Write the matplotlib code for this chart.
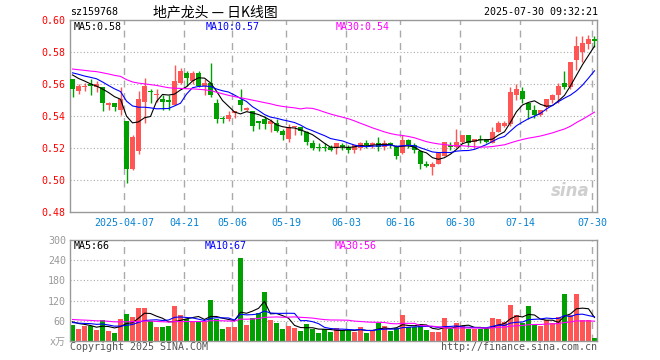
import numpy as np
import pandas as pd
import matplotlib
matplotlib.use('Agg')
import matplotlib.pyplot as plt

# trading days shown
holidays = ['2025-04-04', '2025-05-01', '2025-05-02', '2025-05-05', '2025-06-02']
days = [d for d in pd.bdate_range('2025-03-24', '2025-07-30') if d.strftime('%Y-%m-%d') not in holidays]

opens = [0.563, 0.556, 0.558, 0.560, 0.558, 0.558, 0.547, 0.548, 0.544, 0.537,
         0.507, 0.518, 0.549, 0.556, 0.553, 0.551, 0.550, 0.547, 0.561, 0.567,
         0.562, 0.567, 0.559, 0.561, 0.548, 0.539, 0.538, 0.542, 0.550, 0.544,
         0.543, 0.537, 0.538, 0.535, 0.536, 0.531, 0.526, 0.533, 0.533, 0.530,
         0.523, 0.521, 0.521, 0.521, 0.520, 0.522, 0.521, 0.519, 0.520, 0.523,
         0.522, 0.523, 0.521, 0.523, 0.521, 0.517, 0.525, 0.522, 0.518, 0.510,
         0.508, 0.510, 0.515, 0.522, 0.521, 0.524, 0.528, 0.524, 0.526, 0.526,
         0.523, 0.530, 0.534, 0.535, 0.553, 0.556, 0.548, 0.544, 0.541, 0.546,
         0.550, 0.553, 0.561, 0.558, 0.575, 0.580, 0.585, 0.588]
highs = [0.563, 0.560, 0.561, 0.563, 0.562, 0.558, 0.549, 0.548, 0.558, 0.537,
         0.528, 0.556, 0.564, 0.557, 0.557, 0.553, 0.553, 0.572, 0.570, 0.568,
         0.568, 0.568, 0.563, 0.573, 0.551, 0.540, 0.543, 0.543, 0.557, 0.546,
         0.543, 0.537, 0.540, 0.538, 0.538, 0.532, 0.535, 0.534, 0.533, 0.531,
         0.525, 0.523, 0.523, 0.522, 0.523, 0.523, 0.522, 0.522, 0.524, 0.525,
         0.524, 0.527, 0.525, 0.524, 0.522, 0.528, 0.526, 0.523, 0.519, 0.512,
         0.511, 0.517, 0.524, 0.524, 0.532, 0.528, 0.528, 0.526, 0.528, 0.526,
         0.533, 0.537, 0.537, 0.558, 0.560, 0.558, 0.548, 0.547, 0.544, 0.551,
         0.554, 0.561, 0.568, 0.574, 0.590, 0.590, 0.591, 0.590]
lows = [0.552, 0.554, 0.556, 0.553, 0.555, 0.543, 0.544, 0.543, 0.541, 0.498,
        0.506, 0.516, 0.536, 0.548, 0.549, 0.544, 0.544, 0.547, 0.560, 0.559,
        0.560, 0.558, 0.553, 0.552, 0.536, 0.536, 0.537, 0.539, 0.543, 0.543,
        0.531, 0.532, 0.532, 0.530, 0.530, 0.525, 0.524, 0.528, 0.528, 0.522,
        0.519, 0.518, 0.518, 0.518, 0.516, 0.519, 0.517, 0.517, 0.519, 0.520,
        0.520, 0.518, 0.519, 0.520, 0.513, 0.516, 0.520, 0.517, 0.507, 0.508,
        0.503, 0.510, 0.515, 0.519, 0.520, 0.523, 0.521, 0.520, 0.523, 0.523,
        0.523, 0.530, 0.533, 0.534, 0.550, 0.548, 0.538, 0.539, 0.540, 0.543,
        0.548, 0.548, 0.557, 0.557, 0.569, 0.574, 0.582, 0.583]
closes = [0.557, 0.559, 0.559, 0.559, 0.560, 0.548, 0.548, 0.546, 0.551, 0.507,
          0.527, 0.551, 0.559, 0.555, 0.554, 0.549, 0.549, 0.562, 0.568, 0.564,
          0.567, 0.559, 0.561, 0.553, 0.538, 0.538, 0.541, 0.543, 0.547, 0.545,
          0.534, 0.536, 0.535, 0.537, 0.531, 0.528, 0.533, 0.534, 0.531, 0.524,
          0.520, 0.520, 0.520, 0.519, 0.523, 0.521, 0.519, 0.522, 0.523, 0.522,
          0.523, 0.521, 0.523, 0.522, 0.515, 0.525, 0.522, 0.519, 0.510, 0.509,
          0.510, 0.517, 0.524, 0.521, 0.524, 0.528, 0.523, 0.526, 0.525, 0.524,
          0.530, 0.536, 0.536, 0.555, 0.557, 0.551, 0.544, 0.541, 0.544, 0.551,
          0.553, 0.559, 0.558, 0.574, 0.584, 0.586, 0.588, 0.587]
volumes = [47, 35, 45, 45, 33, 62, 30, 24, 65, 80,
           72, 98, 98, 60, 41, 41, 44, 103, 77, 64,
           60, 60, 59, 121, 64, 35, 41, 41, 248, 47,
           67, 82, 145, 62, 53, 35, 44, 38, 30, 50,
           35, 24, 35, 27, 38, 32, 32, 27, 41, 24,
           32, 53, 44, 30, 38, 77, 41, 41, 47, 32,
           27, 27, 68, 35, 53, 44, 35, 35, 35, 35,
           68, 65, 56, 106, 77, 53, 103, 47, 44, 62,
           53, 71, 139, 77, 139, 62, 62, 9]

# sessions before the window, estimated from where the MA lines start
pre_close = [0.572, 0.571, 0.573, 0.570, 0.569, 0.571, 0.572, 0.570, 0.568, 0.571,
             0.573, 0.572, 0.570, 0.569, 0.571, 0.570, 0.572, 0.571, 0.570, 0.569,
             0.568, 0.570, 0.567, 0.569, 0.568, 0.570, 0.567, 0.568, 0.567]
pre_vol = [70, 66, 72, 68, 65, 74, 69, 66, 70, 67,
           71, 68, 66, 70, 69, 67, 65, 72, 68, 67,
           52, 55, 50, 54, 52, 60, 58, 62, 58]

tick_dates = ['2025-04-07', '2025-04-21', '2025-05-06', '2025-05-19', '2025-06-03',
              '2025-06-16', '2025-06-30', '2025-07-14', '2025-07-30']

RED = '#ff5555'
GREEN = '#00a000'
GRID = '#aaaaaa'
MONO = 'DejaVu Sans Mono'
CJK = ['Noto Sans CJK SC', 'DejaVu Sans']

n = len(closes)
x = np.arange(n)
day_str = [d.strftime('%Y-%m-%d') for d in days]
tick_idx = [day_str.index(d) for d in tick_dates]
tick_lbl = [tick_dates[0]] + [d[5:] for d in tick_dates[1:]]
grid_x = np.array(tick_idx) - 0.35

colors = [RED if c > o else GREEN for o, c in zip(opens, closes)]

cs = pd.Series(pre_close + closes)
vs = pd.Series(pre_vol + volumes)
k = len(pre_close)
ma = {m: cs.rolling(m).mean().iloc[k:].values for m in (5, 10, 30)}
vma = {m: vs.rolling(m).mean().iloc[k:].values for m in (5, 10, 30)}

W, H = 660, 360
fig = plt.figure(figsize=(6.6, 3.6), dpi=100)


def box(l, t, r, b):
    return [l / W, 1 - b / H, (r - l) / W, (b - t) / H]


ax = fig.add_axes(box(70, 20.3, 597, 212))
av = fig.add_axes(box(70, 240, 597, 341))

for a in (ax, av):
    for s in a.spines.values():
        s.set_color('#999999')
        s.set_linewidth(1)
    a.set_xlim(-0.42, n - 0.58)
    a.tick_params(length=0)
    for gx in grid_x:
        a.axvline(gx, color=GRID, lw=1, dashes=(5, 4), zorder=0)

# candles
for i in range(n):
    o, h, l, c = opens[i], highs[i], lows[i], closes[i]
    col = colors[i]
    ax.vlines(i, l, h, color=col, lw=1, zorder=2)
    if abs(c - o) < 0.0005:
        ax.hlines(o, i - 0.42, i + 0.42, color=col, lw=1, zorder=3)
    else:
        ax.bar(i, c - o, bottom=o, width=0.84, color=col, lw=0, zorder=3)

ax.plot(x, ma[5], color='black', lw=0.8, zorder=4)
ax.plot(x, ma[10], color='#0000ff', lw=0.8, zorder=4)
ax.plot(x, ma[30], color='#ff00ff', lw=0.8, zorder=4)

ax.set_ylim(0.48, 0.60)
yt = [0.48, 0.50, 0.52, 0.54, 0.56, 0.58, 0.60]
ax.set_yticks(yt)
ax.set_yticklabels(['%.2f' % v for v in yt], color='#ff0000', family=MONO, fontsize=7.2)
for v in yt[1:-1]:
    ax.axhline(v, color=GRID, lw=0.8, ls=(0, (1, 2)), zorder=0)
ax.set_xticks(grid_x)
ax.set_xticklabels(tick_lbl, color='#0582d2', family=MONO, fontsize=7.2)
ax.tick_params(axis='x', pad=4)
ax.tick_params(axis='y', pad=3)

ax.text(0.985, 0.06, 'sina', transform=ax.transAxes, ha='right', va='bottom',
        fontsize=12, style='italic', fontweight='bold', color='#cfcfcf', zorder=1)

# volume
av.bar(x, volumes, width=0.84, color=colors, lw=0, zorder=2)
av.plot(x, vma[5], color='black', lw=0.8, zorder=4)
av.plot(x, vma[10], color='#0000ff', lw=0.8, zorder=4)
av.plot(x, vma[30], color='#ff00ff', lw=0.8, zorder=4)
av.set_ylim(0, 300)
vt = [0, 60, 120, 180, 240, 300]
av.set_yticks(vt)
av.set_yticklabels(['x万'] + [str(v) for v in vt[1:]], color='#999999', fontsize=7.2)
for t in av.get_yticklabels():
    t.set_family([MONO, 'Noto Sans CJK SC'])
for v in vt[1:-1]:
    av.axhline(v, color=GRID, lw=0.8, ls=(0, (1, 2)), zorder=0)
av.set_xticks([])
av.tick_params(axis='y', pad=3)


def ftext(px, py, s, **kw):
    kw.setdefault('family', MONO)
    kw.setdefault('fontsize', 7.2)
    kw.setdefault('va', 'center')
    fig.text(px / W, 1 - py / H, s, **kw)


ftext(70, 12, 'sz159768')
ftext(215, 12, '地产龙头 — 日K线图', family=CJK, fontsize=10, ha='center')
ftext(598, 12, '2025-07-30 09:32:21', ha='right')
ftext(74, 27, 'MA5:0.58', color='black')
ftext(206, 27, 'MA10:0.57', color='#0000ff')
ftext(336, 27, 'MA30:0.54', color='#ff00ff')
ftext(74, 246, 'MA5:66', color='black')
ftext(205, 246, 'MA10:67', color='#0000ff')
ftext(335, 246, 'MA30:56', color='#ff00ff')
ftext(70, 347, 'Copyright 2025 SINA.COM', color='#555555')
ftext(597, 347, 'http://finance.sina.com.cn', color='#555555', ha='right')

fig.savefig('out.png', dpi=100)
